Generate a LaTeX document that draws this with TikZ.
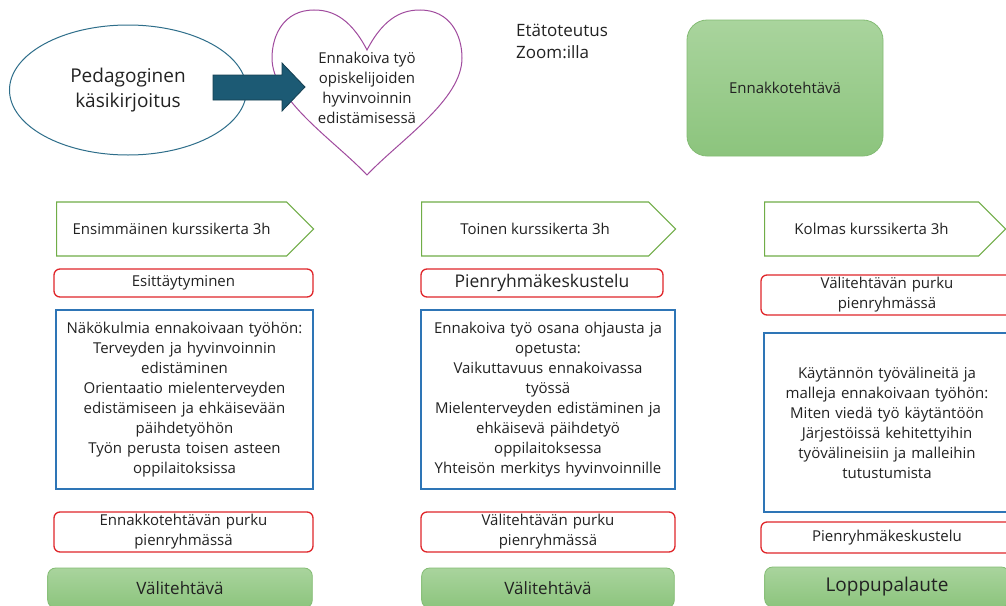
\documentclass[tikz,border=0pt]{standalone}
\usepackage{fontspec}
\setmainfont{Open Sans}
\usepackage{xcolor}
\usetikzlibrary{shapes.geometric,shapes.symbols,positioning}
\definecolor{txtgray}{HTML}{222222}
\definecolor{sessiongreen}{HTML}{70AD47}
\definecolor{taskred}{HTML}{E0262A}
\definecolor{contentblue}{HTML}{2E75B6}
\definecolor{arrowteal}{HTML}{1C5A74}
\definecolor{ellipseteal}{HTML}{2E6E8A}
\definecolor{heartpurple}{HTML}{A04B9E}
\definecolor{greentop}{HTML}{A9D49D}
\definecolor{greenbottom}{HTML}{8CC47D}
\definecolor{greenedge}{HTML}{84BC74}
\tikzset{
  every node/.style={text=txtgray},
  sessionarrow/.style={signal,signal to=east,signal pointer angle=90,draw=sessiongreen,anchor=west,
    line width=1.1pt,fill=white,align=center,font=\fontsize{15}{20}\selectfont,inner xsep=0pt},
  taskbox/.style={draw=taskred,line width=1.3pt,rounded corners=6pt,fill=white,align=center,
    inner xsep=4pt,inner ysep=0pt,font=\fontsize{15}{20}\selectfont},
  contentbox/.style={draw=contentblue,line width=1.2pt,fill=white,align=center,
    inner xsep=4pt,inner ysep=0pt,font=\fontsize{15}{20}\selectfont},
  greenbox/.style={draw=greenedge,line width=0.8pt,rounded corners=8pt,top color=greentop,
    bottom color=greenbottom,align=center,font=\fontsize{17}{20}\selectfont},
}

\begin{document}
\begin{tikzpicture}[x=1pt,y=-1pt]
  \clip (0,0) rectangle (1006,605);
  \fill[white] (0,0) rectangle (1006,605);
  % top row
  \node[ellipse,draw=ellipseteal,line width=1pt,minimum width=237pt,minimum height=130pt,
    align=center,font=\fontsize{19}{25}\selectfont] (script) at (128,90) {Pedagoginen\\käsikirjoitus};
  \node[align=center,font=\fontsize{15}{20}\selectfont] (heart) at (367,88)
    {Ennakoiva työ\\opiskelijoiden\\hyvinvoinnin\\edistämisessä};
  \draw[heartpurple,line width=1pt] (367,50) .. controls (385,15) and (405,10) .. (420,10)
    .. controls (450,10) and (462,35) .. (462,58) .. controls (462,100) and (400,140) .. (367,175)
    .. controls (334,140) and (272,100) .. (272,58) .. controls (272,35) and (284,10) .. (314,10)
    .. controls (329,10) and (349,15) .. (367,50) -- cycle;
  \filldraw[fill=arrowteal,draw=arrowteal!70!black,line width=0.8pt]
    (213,75) -- (282,75) -- (282,63) -- (305,87) -- (282,111) -- (282,100) -- (213,100) -- cycle;
  \node[anchor=north west,align=left,inner sep=0pt,font=\fontsize{17}{22}\selectfont] (remote)
    at (516,24) {Etätoteutus\\Zoom:illa};
  \node[greenbox,rounded corners=20pt,minimum width=196pt,minimum height=136pt,
    font=\fontsize{15}{18}\selectfont] (pretask) at (785,88) {Ennakkotehtävä};
  % first session
  \node[sessionarrow,minimum width=257pt,minimum height=54pt] (s1) at (56,229)
    {Ensimmäinen kurssikerta 3h};
  \node[taskbox,text width=251pt,minimum height=28pt] (s1intro) at (183.5,283) {Esittäytyminen};
  \node[contentbox,text width=249pt,minimum height=179pt] (s1content) at (184.5,399.5)
    {Näkökulmia ennakoivaan työhön:\\Terveyden ja hyvinvoinnin\\edistäminen\\Orientaatio mielenterveyden\\edistämiseen ja ehkäisevään\\päihdetyöhön\\Työn perusta toisen asteen\\oppilaitoksissa};
  \node[taskbox,text width=251pt,minimum height=40pt] (s1review) at (183.5,532)
    {Ennakkotehtävän purku\\pienryhmässä};
  \node[greenbox,text width=258pt,minimum height=40pt] (s1home) at (180,588) {Välitehtävä};
  % second session
  \node[sessionarrow,minimum width=254pt,minimum height=54pt] (s2) at (421,229)
    {Toinen kurssikerta 3h};
  \node[taskbox,text width=234pt,minimum height=28pt,font=\fontsize{17.5}{20}\selectfont] (s2intro)
    at (542,283) {Pienryhmäkeskustelu};
  \node[contentbox,text width=246pt,minimum height=179pt] (s2content) at (548,399.5)
    {Ennakoiva työ osana ohjausta ja\\opetusta:\\Vaikuttavuus ennakoivassa\\työssä\\Mielenterveyden edistäminen ja\\ehkäisevä päihdetyö\\oppilaitoksessa\\Yhteisön merkitys hyvinvoinnille};
  \node[taskbox,text width=246pt,minimum height=40pt] (s2review) at (548,532)
    {Välitehtävän purku\\pienryhmässä};
  \node[greenbox,text width=246pt,minimum height=40pt] (s2home) at (548,588) {Välitehtävä};
  % third session
  \node[sessionarrow,minimum width=241pt,minimum height=54pt] (s3) at (764,229)
    {Kolmas kurssikerta 3h};
  \node[taskbox,text width=244pt,minimum height=40pt] (s3review) at (887,295)
    {Välitehtävän purku\\pienryhmässä};
  \node[contentbox,text width=238pt,minimum height=179pt] (s3content) at (887,422.5)
    {Käytännön työvälineitä ja\\malleja ennakoivaan työhön:\\Miten viedä työ käytäntöön\\Järjestöissä kehitettyihin\\työvälineisiin ja malleihin\\tutustumista};
  \node[taskbox,text width=244pt,minimum height=31pt] (s3talk) at (887,537.5) {Pienryhmäkeskustelu};
  \node[greenbox,text width=238pt,minimum height=40pt,font=\fontsize{19}{20}\selectfont] (s3feedback)
    at (887,587) {Loppupalaute};
\end{tikzpicture}
\end{document}
